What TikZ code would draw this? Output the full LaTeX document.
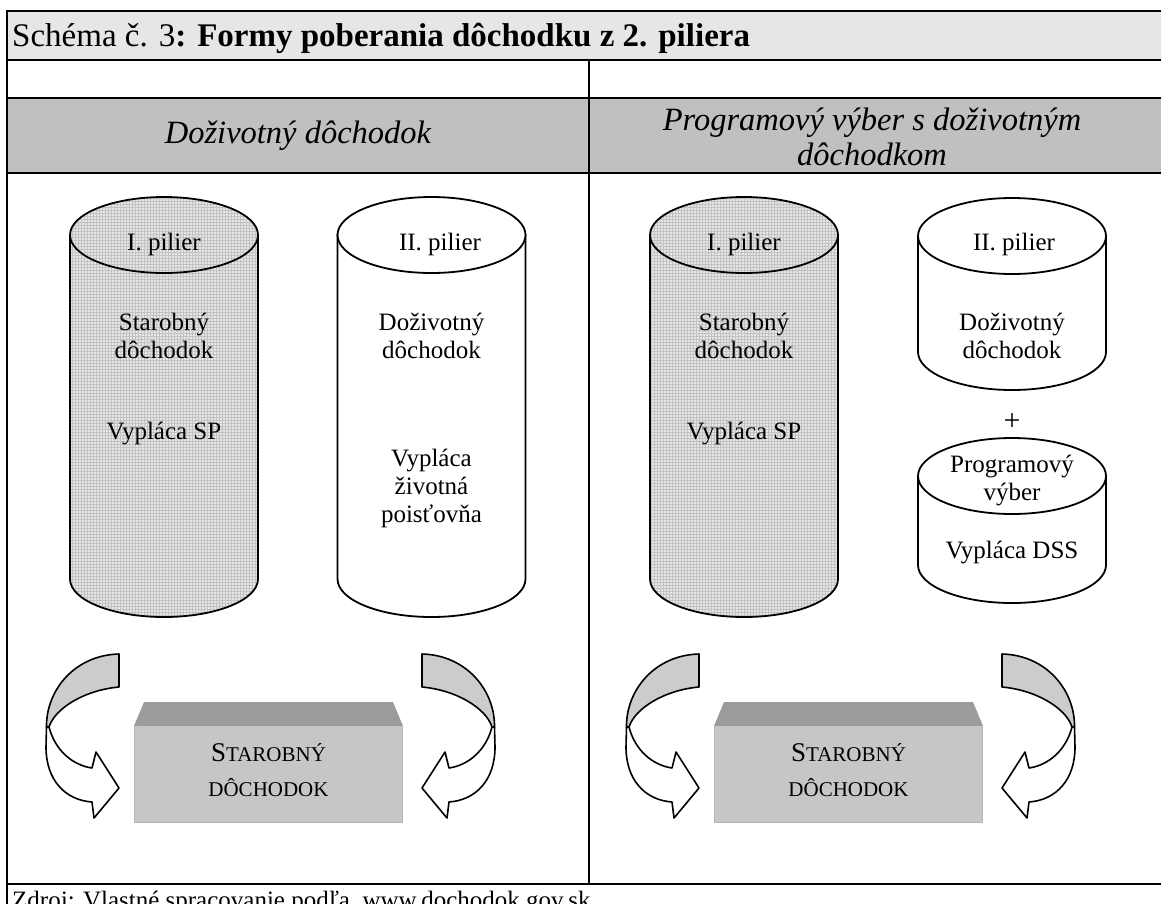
\documentclass[tikz,border=0pt]{standalone}
\usepackage{fontspec}
\setmainfont{Liberation Serif}
\usetikzlibrary{patterns}
\definecolor{headfill}{HTML}{E6E6E6}
\definecolor{bandfill}{HTML}{C0C0C0}
\definecolor{meshbase}{HTML}{E6E6E6}
\definecolor{meshline}{HTML}{C2C2C2}
\definecolor{ribbonback}{HTML}{CCCCCC}
\definecolor{blockfront}{HTML}{C6C6C6}
\definecolor{blocktop}{HTML}{9B9B9B}
\definecolor{blockedge}{HTML}{B4B4B4}

% cylinder: #1 style, #2 centre x, #3 top centre y, #4 bottom centre y
\newcommand\drum[4]{%
  \path[#1] (#2-94,#3) -- (#2-94,#4)
     arc[start angle=180,end angle=360,x radius=94pt,y radius=38pt]
     -- (#2+94,#3) -- cycle;
  \path[#1] (#2,#3) ellipse[x radius=94pt,y radius=38pt];
}
% twisted curved arrow pointing right (front band white, back band grey)
\newcommand\ribbon{%
  \path[ribbonpart,fill=white] (46.5,727) -- (46,747)
     .. controls (46,780) and (65,800) .. (92,802) -- (94,818) -- (119,788)
     -- (96,752) -- (92,768) .. controls (72,765) and (55,750) .. (49,727) -- cycle;
  \path[ribbonpart,fill=ribbonback] (119,654) .. controls (75,655) and (46,690) .. (46.5,727)
     -- (49,727) .. controls (55,708) and (85,690) .. (119,687) -- cycle;
}
% raised block: #1 horizontal offset
\newcommand\block[1]{%
  \begin{scope}[xshift=#1pt]
    \fill[blocktop] (144,702) -- (393,702) -- (403,726) -- (134,726) -- cycle;
    \fill[blockfront] (134,726) rectangle (403,823);
    \draw[blockedge,line width=1.2pt] (134.6,726) -- (134.6,822.4) -- (402.4,822.4) -- (402.4,726);
  \end{scope}
}

\begin{document}
\begin{tikzpicture}[x=1pt,y=-1pt,
  rule/.style={line width=2.8pt},
  outline/.style={draw=black,line width=1.8pt},
  meshdrum/.style={outline,preaction={fill=meshbase},pattern=grid,pattern color=meshline},
  plaindrum/.style={outline,fill=white},
  ribbonpart/.style={draw=black,line width=1.6pt,line join=round},
  celltext/.style={font=\fontsize{25}{28}\selectfont,align=center,inner sep=0pt},
  headtext/.style={font=\fontsize{32.5}{35}\selectfont\itshape,align=center,inner sep=0pt},
  blocktext/.style={font=\fontsize{21}{35}\selectfont,align=center,inner sep=0pt}]
\useasboundingbox (0,0) rectangle (1161,903);
\clip (0,0) rectangle (1161,903);

% table background
\fill[headfill] (7,11) rectangle (1165,60);
\fill[bandfill] (7,98) rectangle (1165,173);

% table rules
\draw[rule] (7,11) -- (1165,11);
\draw[rule] (7,60) -- (1165,60);
\draw[rule] (7,98) -- (1165,98);
\draw[rule] (7,173) -- (1165,173);
\draw[rule] (7,884) -- (1165,884);
\draw[rule] (7,9.6) -- (7,910);
\draw[rule] (589,60) -- (589,884);

% headings
\node[anchor=base west,inner sep=0pt,font=\fontsize{33}{35}\selectfont] (title) at (12,46)
  {Schéma č. 3\textbf{: Formy poberania dôchodku z 2. piliera}};
\node[headtext] (headL) at (298,136) {Doživotný dôchodok};
\node[headtext] (headR) at (872,137) {Programový výber s doživotným\\dôchodkom};

% left panel
\drum{meshdrum}{164}{235}{579}
\drum{plaindrum}{431.5}{235}{579}
\node[celltext] (pilIL) at (164,244) {I. pilier};
\node[celltext] (statL) at (164,336) {Starobný\\dôchodok};
\node[celltext] (spL) at (164,433) {Vypláca SP};
\node[celltext] (pilIIL) at (440,244) {II. pilier};
\node[celltext] (dozL) at (431.5,336) {Doživotný\\dôchodok};
\node[celltext] (poisL) at (431.5,488) {Vypláca\\životná\\poisťovňa};

\ribbon
\begin{scope}[shift={(541,0)},xscale=-1]\ribbon\end{scope}
\block{0}
\node[blocktext] (blockL) at (268.5,770) {{\fontsize{27}{30}\selectfont S}TAROBNÝ\\DÔCHODOK};

% right panel
\drum{meshdrum}{744}{235}{579}
\drum{plaindrum}{1012}{236}{352}
\drum{plaindrum}{1012}{476}{565}
\node[celltext] (pilIR) at (744,244) {I. pilier};
\node[celltext] (statR) at (744,336) {Starobný\\dôchodok};
\node[celltext] (spR) at (744,433) {Vypláca SP};
\node[celltext] (pilIIR) at (1014,244) {II. pilier};
\node[celltext] (dozR) at (1012,336) {Doživotný\\dôchodok};
\node[celltext,font=\fontsize{30}{32}\selectfont] (plus) at (1012,422) {+};
\node[celltext] (progR) at (1012,480) {Programový\\výber};
\node[celltext] (dssR) at (1012,552) {Vypláca DSS};

\begin{scope}[xshift=580pt]\ribbon\end{scope}
\begin{scope}[shift={(1121,0)},xscale=-1]\ribbon\end{scope}
\block{580}
\node[blocktext] (blockR) at (848.5,770) {{\fontsize{27}{30}\selectfont S}TAROBNÝ\\DÔCHODOK};

% source line
\node[anchor=base west,inner sep=0pt,font=\fontsize{25}{28}\selectfont] (source) at (12,908)
  {Zdroj: Vlastné spracovanie podľa\ \ www.dochodok.gov.sk};
\end{tikzpicture}
\end{document}
